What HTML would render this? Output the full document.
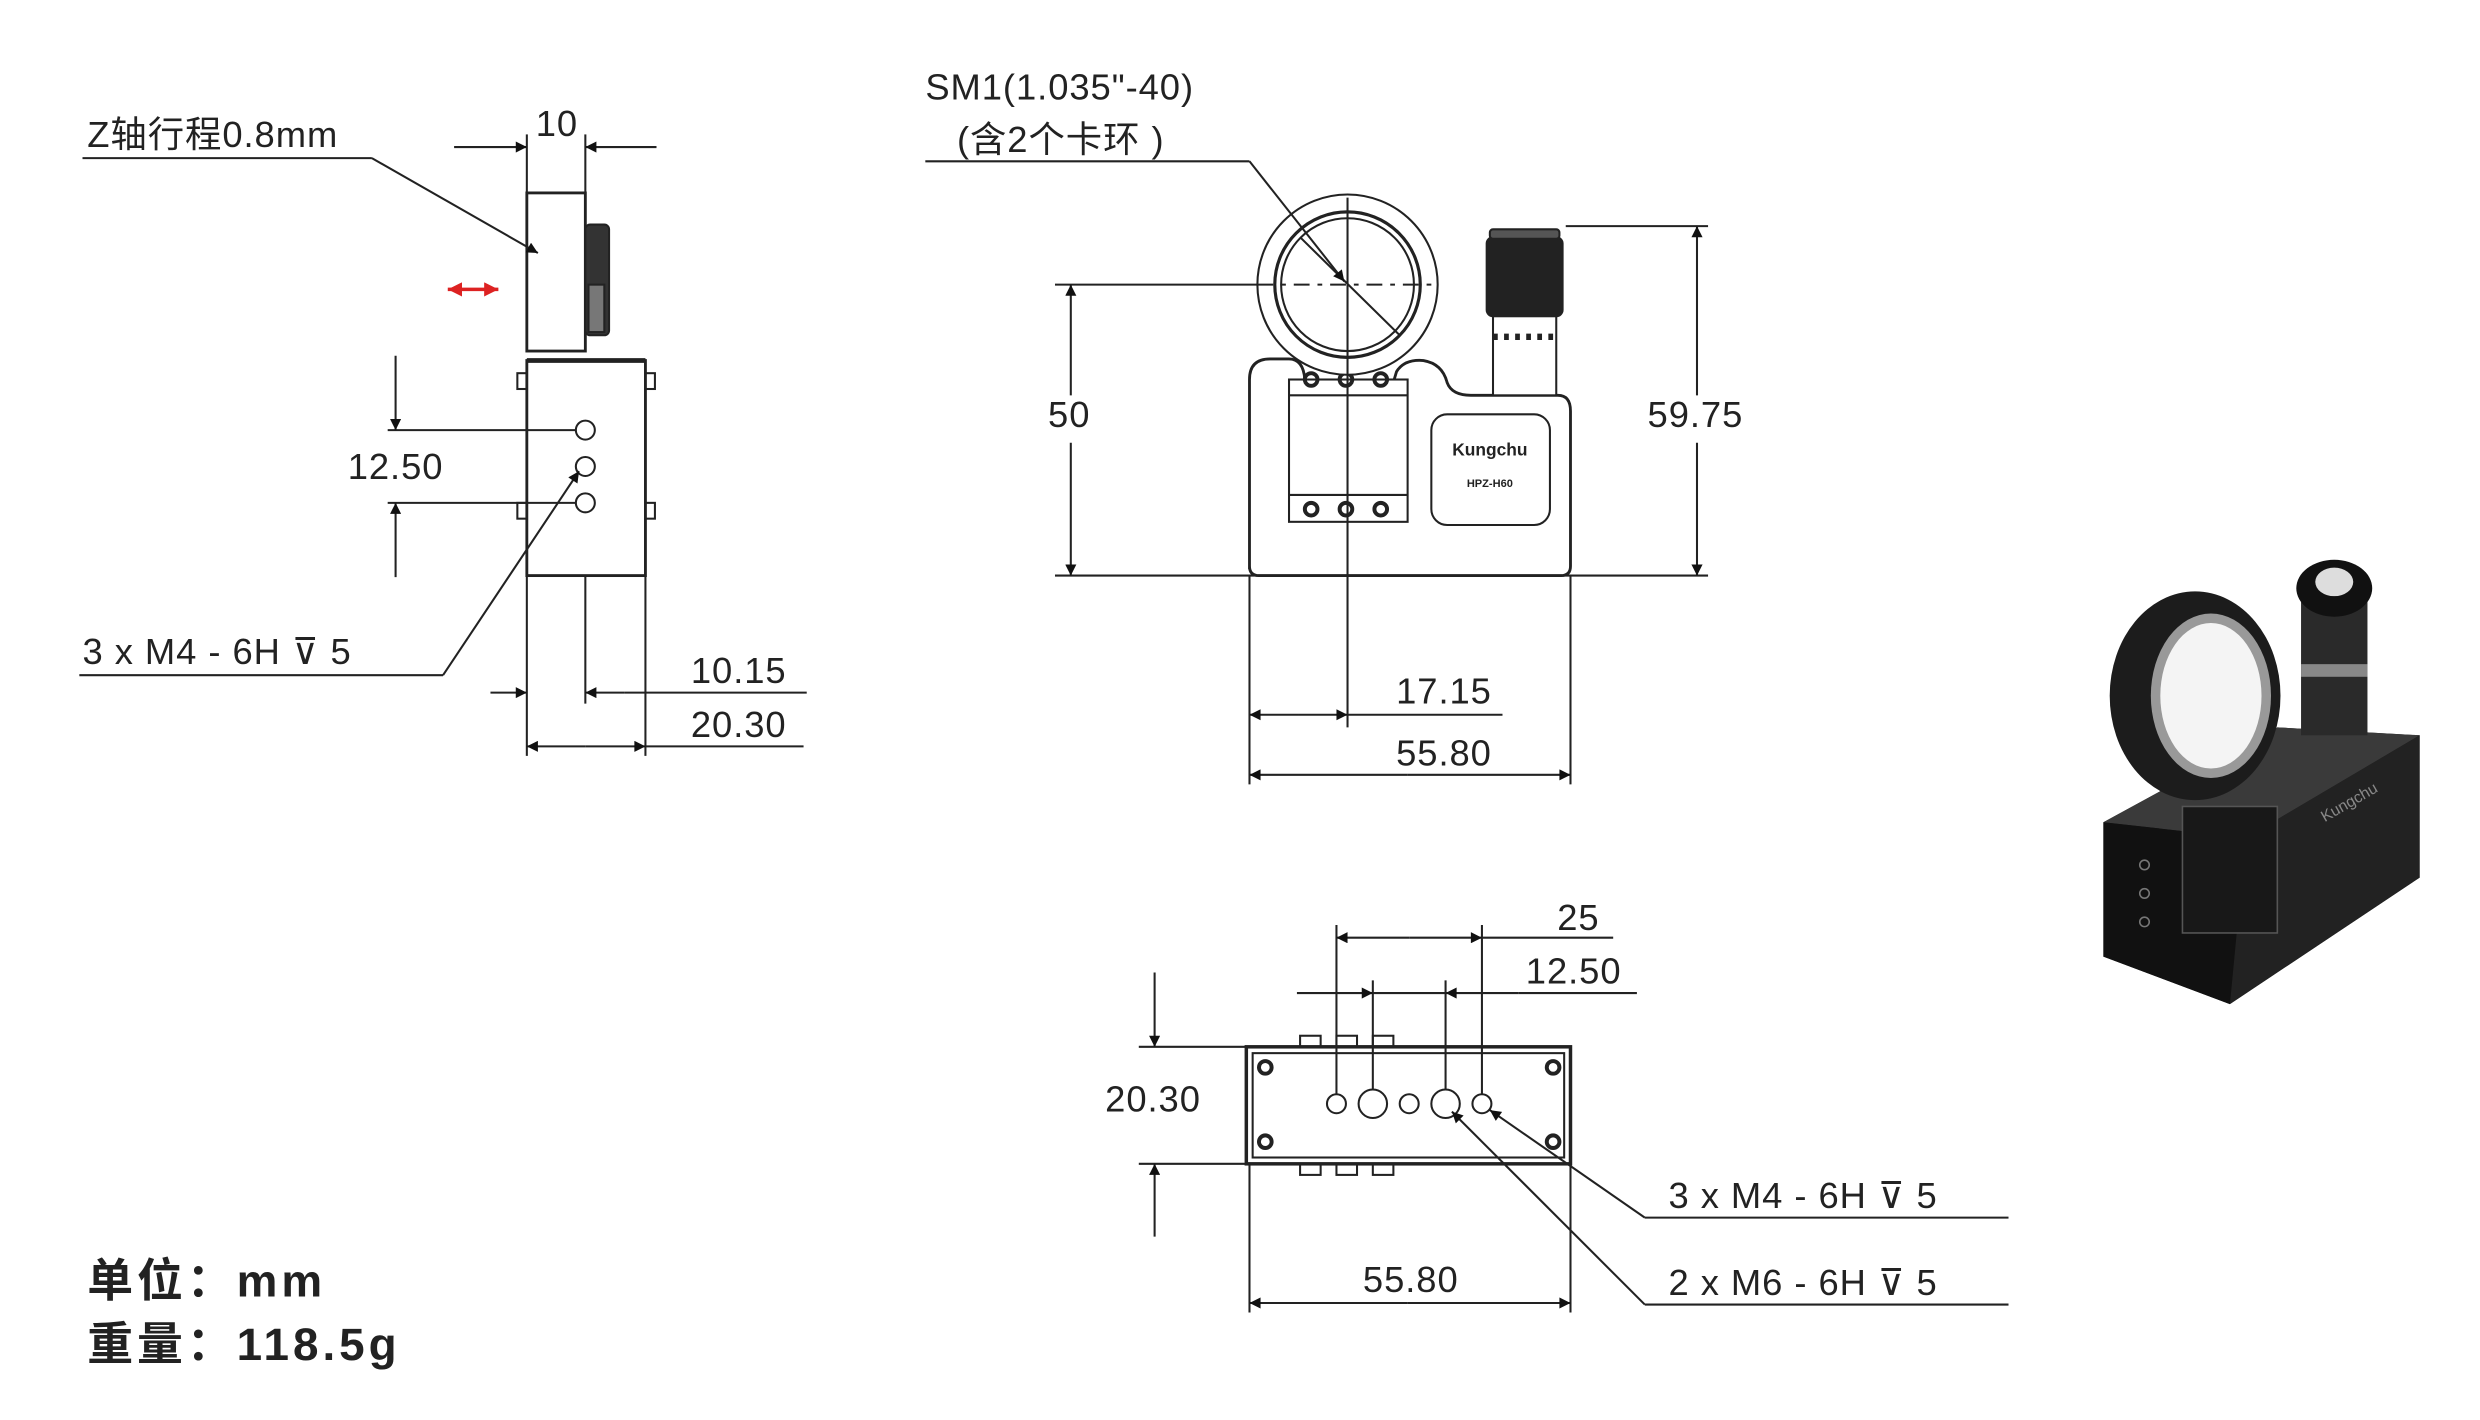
<!DOCTYPE html>
<html><head><meta charset="utf-8"><style>
html,body{margin:0;padding:0;background:#fff;}
svg{display:block}
text{font-family:"Liberation Sans","Noto Sans CJK SC",sans-serif;fill:#222}
</style></head><body>
<svg width="2480" height="1420" viewBox="0 0 1568 898" xmlns="http://www.w3.org/2000/svg">
<defs>
<marker id="a" viewBox="0 0 10 10" refX="10" refY="5" markerWidth="11" markerHeight="7" orient="auto-start-reverse" markerUnits="userSpaceOnUse"><path d="M0,0 L10,5 L0,10 z" fill="#111"/></marker>
<marker id="ar" viewBox="0 0 10 10" refX="10" refY="5" markerWidth="10" markerHeight="9" orient="auto-start-reverse" markerUnits="userSpaceOnUse"><path d="M0,0 L10,5 L0,10 z" fill="#d22"/></marker>
</defs>
<rect width="1568" height="898" fill="#fff"/>
<g stroke="#222" stroke-width="1.3" fill="none">
<rect x="333" y="122" width="37" height="100" fill="#fff" stroke-width="1.8"/>
<rect x="370" y="142" width="15" height="70" rx="3" fill="#333"/>
<rect x="372" y="180" width="10" height="30" fill="#777"/>
<rect x="333" y="228" width="75" height="136" fill="#fff" stroke-width="1.8"/>
<rect x="327" y="236" width="6" height="10"/><rect x="327" y="318" width="6" height="10"/>
<rect x="408" y="236" width="6" height="10"/><rect x="408" y="318" width="6" height="10"/>
<line x1="333" y1="228" x2="408" y2="228" stroke-width="3"/>
<circle cx="370" cy="272" r="6"/><circle cx="370" cy="295" r="6"/><circle cx="370" cy="318" r="6"/>
<line x1="333" y1="122" x2="333" y2="85"/><line x1="370" y1="122" x2="370" y2="85"/>
<line x1="287" y1="93" x2="333" y2="93" marker-end="url(#a)"/><line x1="415" y1="93" x2="370" y2="93" marker-end="url(#a)"/>
<line x1="52" y1="100" x2="235" y2="100"/><line x1="235" y1="100" x2="340" y2="160" marker-end="url(#a)"/>
<line x1="245" y1="272" x2="364" y2="272"/><line x1="245" y1="318" x2="364" y2="318"/>
<line x1="250" y1="225" x2="250" y2="272" marker-end="url(#a)"/><line x1="250" y1="365" x2="250" y2="318" marker-end="url(#a)"/>
<line x1="50" y1="427" x2="280" y2="427"/><line x1="280" y1="427" x2="366" y2="298" marker-end="url(#a)"/>
<line x1="333" y1="364" x2="333" y2="478"/><line x1="370" y1="364" x2="370" y2="445"/><line x1="408" y1="364" x2="408" y2="478"/>
<line x1="310" y1="438" x2="333" y2="438" marker-end="url(#a)"/><line x1="395" y1="438" x2="370" y2="438" marker-end="url(#a)"/><line x1="395" y1="438" x2="510" y2="438"/>
<line x1="370" y1="472" x2="333" y2="472" marker-end="url(#a)"/><line x1="370" y1="472" x2="408" y2="472" marker-end="url(#a)"/><line x1="408" y1="472" x2="508" y2="472"/>
<path d="M790,360 L790,240 Q790,227 803,227 L815,227 Q824,227 825,240 L825,245 L880,245 L883,235 Q888,227 900,228 Q912,230 915,242 Q918,250 930,250 L985,250 Q993,250 993,260 L993,358 Q993,364 987,364 L796,364 Q790,364 790,358 Z" fill="#fff" stroke-width="1.8"/>
<rect x="815" y="240" width="75" height="90" fill="#fff"/>
<line x1="815" y1="250" x2="890" y2="250"/><line x1="815" y1="313" x2="890" y2="313"/>
<circle cx="829" cy="240" r="4" stroke-width="2.5"/><circle cx="851" cy="240" r="4" stroke-width="2.5"/><circle cx="873" cy="240" r="4" stroke-width="2.5"/>
<circle cx="829" cy="322" r="4" stroke-width="2.5"/><circle cx="851" cy="322" r="4" stroke-width="2.5"/><circle cx="873" cy="322" r="4" stroke-width="2.5"/>
<circle cx="852" cy="180" r="57" fill="#fff"/>
<circle cx="852" cy="180" r="46" stroke-width="2"/><circle cx="852" cy="180" r="42"/>
<line x1="795" y1="180" x2="910" y2="180" stroke-dasharray="10,5,3,5"/>
<line x1="852" y1="125" x2="852" y2="460"/>
<line x1="822" y1="150" x2="885" y2="212"/>
<rect x="940" y="150" width="48" height="50" rx="4" fill="#222"/>
<rect x="942" y="145" width="44" height="6" rx="2" fill="#555"/>
<rect x="944" y="200" width="40" height="50" fill="#fff"/>
<line x1="944" y1="213" x2="984" y2="213" stroke-width="4" stroke-dasharray="3,4"/>
<rect x="905" y="262" width="75" height="70" rx="10" fill="#fff"/>
<line x1="667" y1="180" x2="795" y2="180"/><line x1="667" y1="364" x2="1080" y2="364"/>
<line x1="677" y1="250" x2="677" y2="180" marker-end="url(#a)"/><line x1="677" y1="280" x2="677" y2="364" marker-end="url(#a)"/>
<line x1="990" y1="143" x2="1080" y2="143"/>
<line x1="1073" y1="250" x2="1073" y2="143" marker-end="url(#a)"/><line x1="1073" y1="280" x2="1073" y2="364" marker-end="url(#a)"/>
<line x1="790" y1="364" x2="790" y2="496"/><line x1="993" y1="364" x2="993" y2="496"/>
<line x1="821" y1="452" x2="790" y2="452" marker-end="url(#a)"/><line x1="821" y1="452" x2="852" y2="452" marker-end="url(#a)"/><line x1="852" y1="452" x2="950" y2="452"/>
<line x1="890" y1="490" x2="790" y2="490" marker-end="url(#a)"/><line x1="890" y1="490" x2="993" y2="490" marker-end="url(#a)"/>
<line x1="585" y1="102" x2="790" y2="102"/><line x1="790" y1="102" x2="850" y2="178" marker-end="url(#a)"/>
<rect x="822" y="655" width="13" height="7"/><rect x="845" y="655" width="13" height="7"/><rect x="868" y="655" width="13" height="7"/>
<rect x="822" y="736" width="13" height="7"/><rect x="845" y="736" width="13" height="7"/><rect x="868" y="736" width="13" height="7"/>
<rect x="788" y="662" width="205" height="74" fill="#fff" stroke-width="2.2"/>
<rect x="792" y="666" width="197" height="66"/>
<circle cx="800" cy="675" r="4" stroke-width="2.5"/><circle cx="982" cy="675" r="4" stroke-width="2.5"/>
<circle cx="800" cy="722" r="4" stroke-width="2.5"/><circle cx="982" cy="722" r="4" stroke-width="2.5"/>
<circle cx="845" cy="698" r="6"/><circle cx="868" cy="698" r="9"/><circle cx="891" cy="698" r="6"/><circle cx="914" cy="698" r="9"/><circle cx="937" cy="698" r="6"/>
<line x1="845" y1="585" x2="845" y2="692"/><line x1="937" y1="585" x2="937" y2="692"/>
<line x1="868" y1="620" x2="868" y2="689"/><line x1="914" y1="620" x2="914" y2="689"/>
<line x1="891" y1="593" x2="845" y2="593" marker-end="url(#a)"/><line x1="891" y1="593" x2="937" y2="593" marker-end="url(#a)"/><line x1="937" y1="593" x2="1020" y2="593"/>
<line x1="820" y1="628" x2="868" y2="628" marker-end="url(#a)"/><line x1="960" y1="628" x2="914" y2="628" marker-end="url(#a)"/><line x1="868" y1="628" x2="914" y2="628"/><line x1="960" y1="628" x2="1035" y2="628"/>
<line x1="720" y1="662" x2="790" y2="662"/><line x1="720" y1="736" x2="790" y2="736"/>
<line x1="730" y1="615" x2="730" y2="662" marker-end="url(#a)"/><line x1="730" y1="782" x2="730" y2="736" marker-end="url(#a)"/>
<line x1="790" y1="736" x2="790" y2="830"/><line x1="993" y1="736" x2="993" y2="830"/>
<line x1="890" y1="824" x2="790" y2="824" marker-end="url(#a)"/><line x1="890" y1="824" x2="993" y2="824" marker-end="url(#a)"/>
<line x1="1040" y1="770" x2="1270" y2="770"/><line x1="1040" y1="770" x2="942" y2="702" marker-end="url(#a)"/>
<line x1="1040" y1="825" x2="1270" y2="825"/><line x1="1040" y1="825" x2="918" y2="703" marker-end="url(#a)"/>
</g>
<line x1="283" y1="183" x2="315" y2="183" stroke="#d22" stroke-width="2.2" marker-start="url(#ar)" marker-end="url(#ar)"/>
<g>
<polygon points="1330,520 1440,460 1530,465 1530,555 1410,635 1330,605" fill="#1a1a1a"/>
<polygon points="1330,520 1440,460 1530,465 1420,530" fill="#3a3a3a"/>
<polygon points="1420,530 1530,465 1530,555 1410,635" fill="#222"/>
<polygon points="1330,520 1420,530 1410,635 1330,605" fill="#111"/>
<rect x="1455" y="380" width="42" height="85" fill="#2a2a2a"/>
<ellipse cx="1476" cy="372" rx="24" ry="18" fill="#111"/>
<ellipse cx="1476" cy="368" rx="12" ry="9" fill="#ddd"/>
<rect x="1455" y="420" width="42" height="8" fill="#888"/>
<ellipse cx="1388" cy="440" rx="54" ry="66" fill="#1c1c1c"/>
<ellipse cx="1398" cy="440" rx="38" ry="52" fill="#999"/>
<ellipse cx="1398" cy="440" rx="32" ry="46" fill="#f4f4f4"/>
<rect x="1380" y="510" width="60" height="80" fill="#181818" stroke="#555" stroke-width="1"/>
<circle cx="1356" cy="547" r="3" fill="none" stroke="#777"/><circle cx="1356" cy="565" r="3" fill="none" stroke="#777"/><circle cx="1356" cy="583" r="3" fill="none" stroke="#777"/>
<text x="1470" y="520" font-size="10" style="fill:#888" transform="rotate(-30 1470 520)">Kungchu</text>
</g>
<g font-size="23" letter-spacing="0.6">
<text x="352" y="86" text-anchor="middle">10</text>
<text x="55" y="93">Z轴行程0.8mm</text>
<text x="250" y="303" text-anchor="middle">12.50</text>
<text x="52" y="420">3 x  M4 - 6H ⊽ 5</text>
<text x="467" y="432" text-anchor="middle">10.15</text>
<text x="467" y="466" text-anchor="middle">20.30</text>
<text x="585" y="63">SM1(1.035"-40)</text>
<text x="605" y="96">(含2个卡环 )</text>
<text x="676" y="270" text-anchor="middle">50</text>
<text x="1072" y="270" text-anchor="middle">59.75</text>
<text x="913" y="445" text-anchor="middle">17.15</text>
<text x="913" y="484" text-anchor="middle">55.80</text>
<text x="998" y="588" text-anchor="middle">25</text>
<text x="995" y="622" text-anchor="middle">12.50</text>
<text x="729" y="703" text-anchor="middle">20.30</text>
<text x="892" y="817" text-anchor="middle">55.80</text>
<text x="1055" y="764">3 x  M4 - 6H ⊽ 5</text>
<text x="1055" y="819">2 x  M6 - 6H ⊽ 5</text>
</g>
<text x="942" y="288" text-anchor="middle" font-size="11" font-weight="bold">Kungchu</text>
<text x="942" y="308" text-anchor="middle" font-size="7" font-weight="bold">HPZ-H60</text>
<text x="55" y="820" font-size="29" font-weight="bold" letter-spacing="2.5">单位：mm</text>
<text x="55" y="860" font-size="29" font-weight="bold" letter-spacing="2.5">重量：118.5g</text>
</svg>
</body></html>
